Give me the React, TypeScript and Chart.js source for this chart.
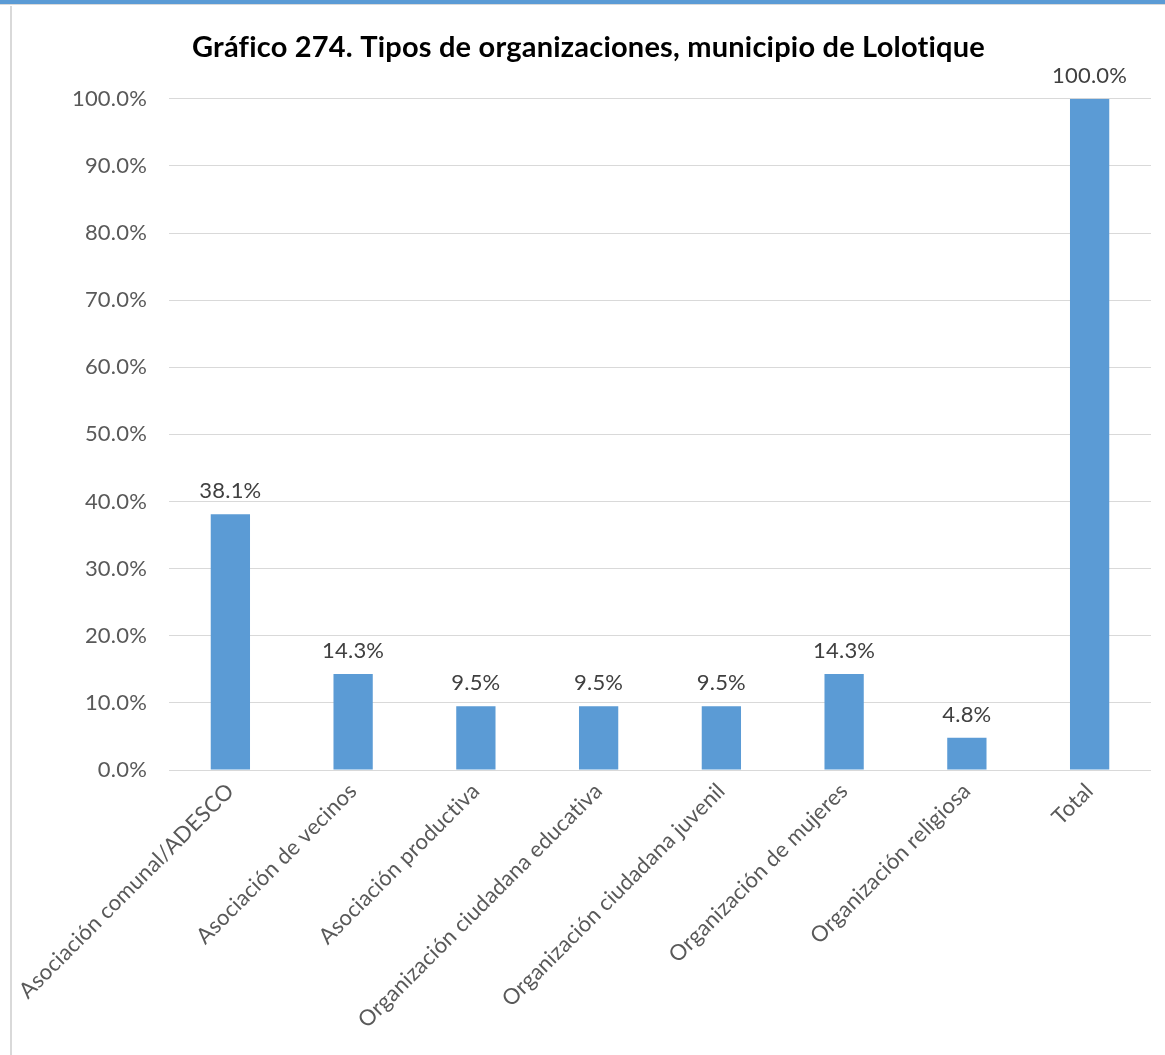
import React, { useEffect, useRef } from "react";
import { Chart, registerables } from "chart.js";

Chart.register(...registerables);

const categories = [
  "Asociación comunal/ADESCO",
  "Asociación de vecinos",
  "Asociación productiva",
  "Organización ciudadana educativa",
  "Organización ciudadana juvenil",
  "Organización de mujeres",
  "Organización religiosa",
  "Total",
];
const values = [38.1, 14.3, 9.5, 9.5, 9.5, 14.3, 4.8, 100.0];
const yTicks = [0, 10, 20, 30, 40, 50, 60, 70, 80, 90, 100];
const title = "Gráfico 274. Tipos de organizaciones, municipio de Lolotique";

const FONT = "Lato, 'Open Sans', sans-serif";

const noLigaturePlugin = {
  id: "noLigatures",
  beforeDraw(chart: any) {
    try {
      chart.ctx.letterSpacing = "0.2px";
    } catch (e) {}
  },
};

const dataLabelPlugin = {
  id: "dataLabels",
  afterDatasetsDraw(chart: any) {
    const ctx = chart.ctx;
    const meta = chart.getDatasetMeta(0);
    ctx.save();
    ctx.font = `22px ${FONT}`;
    ctx.fillStyle = "#404040";
    ctx.textAlign = "center";
    ctx.textBaseline = "bottom";
    meta.data.forEach((bar: any, i: number) => {
      ctx.fillText(values[i].toFixed(1) + "%", bar.x, bar.y - 12);
    });
    ctx.restore();
  },
};

export default function App() {
  const ref = useRef<HTMLCanvasElement | null>(null);
  useEffect(() => {
    if (!ref.current) return;
    const chart = new Chart(ref.current, {
      type: "bar",
      data: {
        labels: categories,
        datasets: [
          {
            data: values,
            backgroundColor: "#5b9bd5",
            borderWidth: 0,
            barPercentage: 0.32,
            categoryPercentage: 1,
          },
        ],
      },
      options: {
        animation: false,
        responsive: true,
        maintainAspectRatio: false,
        layout: { padding: { left: 26, right: 14, top: 0, bottom: 0 } },
        plugins: {
          legend: { display: false },
          tooltip: { enabled: false },
          title: {
            display: true,
            text: title,
            color: "#000000",
            font: { family: FONT, size: 29, weight: "bold" },
            padding: { top: 30, bottom: 34 },
          },
        },
        scales: {
          x: {
            offset: true,
            grid: { display: false, drawTicks: false },
            border: { display: false },
            ticks: {
              color: "#595959",
              font: { family: FONT, size: 22 },
              maxRotation: 45,
              minRotation: 45,
              autoSkip: false,
              padding: 8,
            },
            afterFit: (s: any) => {
              s.height = 1055 - 770;
            },
          },
          y: {
            min: 0,
            max: 100,
            afterBuildTicks: (s: any) => {
              s.ticks = yTicks.map((v) => ({ value: v }));
            },
            grid: { color: "#d9d9d9", lineWidth: 1, drawTicks: false },
            border: { display: false },
            ticks: {
              color: "#595959",
              font: { family: FONT, size: 22 },
              padding: 22,
              callback: (v: any) => Number(v).toFixed(1) + "%",
            },
            afterFit: (s: any) => {
              s.width = 143;
            },
          },
        },
      },
      plugins: [noLigaturePlugin, dataLabelPlugin],
    });
    return () => chart.destroy();
  }, []);

  return (
    <div
      style={{
        position: "absolute",
        left: 0,
        top: 0,
        width: 1165,
        height: 1055,
        background: "#ffffff",
        overflow: "hidden",
      }}
    >
      <div style={{ position: "absolute", left: 0, top: 0, width: 1165, height: 4, background: "#5b9bd5" }} />
      <div style={{ position: "absolute", left: 0, top: 4, width: 1165, height: 1, background: "#d9d9d9" }} />
      <div style={{ position: "absolute", left: 10, top: 6, width: 2, height: 1049, background: "#d9d9d9" }} />
      <div style={{ position: "absolute", left: 0, top: 0, width: 1165, height: 1055 }}>
        <canvas ref={ref} />
      </div>
    </div>
  );
}
